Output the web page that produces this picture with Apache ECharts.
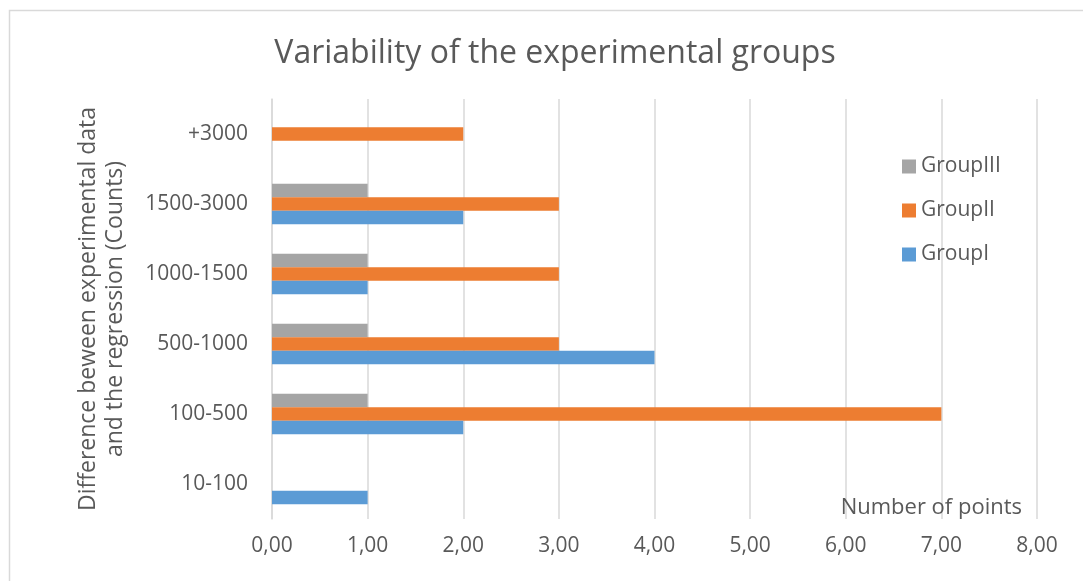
<!DOCTYPE html>
<html>
<head>
<meta charset="utf-8">
<script src="https://cdn.jsdelivr.net/npm/echarts@6/dist/echarts.min.js"></script>
<style>html,body{margin:0;padding:0;background:#fff;}#c{width:1083px;height:581px;}</style>
</head>
<body>
<div id="c"></div>
<script>
const categories = ['10-100', '100-500', '500-1000', '1000-1500', '1500-3000', '+3000'];
const groupI = [1, 2, 4, 1, 2, 0];
const groupII = [0, 7, 3, 3, 3, 2];
const groupIII = [0, 1, 1, 1, 1, 0];
const xTicks = { min: 0, max: 8, interval: 1 };

const FONT = 'Open Sans';
const TXT = '#595959';
const chart = echarts.init(document.getElementById('c'));
chart.setOption({
  animation: false,
  textStyle: { fontFamily: FONT, color: TXT },
  title: {
    text: 'Variability of the experimental groups',
    left: 550, top: 33, textAlign: 'center',
    textStyle: { fontFamily: FONT, fontSize: 32, fontWeight: 'normal', color: TXT }
  },
  graphic: [{
    type: 'rect', left: 7, top: 8, silent: true,
    shape: { width: 1200, height: 700 },
    style: { fill: 'none', stroke: '#d9d9d9', lineWidth: 1.5 }
  }],
  legend: {
    orient: 'vertical', left: 897, top: 151,
    data: ['GroupIII', 'GroupII', 'GroupI'],
    icon: 'rect', itemWidth: 14, itemHeight: 14, itemGap: 23,
    textStyle: { fontFamily: FONT, fontSize: 21, color: TXT }
  },
  grid: { left: 272, right: 46, top: 99, bottom: 62, containLabel: false },
  xAxis: {
    type: 'value', min: xTicks.min, max: xTicks.max, interval: xTicks.interval,
    name: 'Number of points', nameLocation: 'end', nameGap: -15,
    nameTextStyle: { fontFamily: FONT, fontSize: 22, color: TXT, align: 'right', verticalAlign: 'bottom', padding: [0, 0, 0, 0] },
    axisLine: { show: false }, axisTick: { show: false },
    axisLabel: { fontFamily: FONT, fontSize: 21, color: TXT, margin: 17, formatter: v => v.toFixed(2).replace('.', ',') },
    splitLine: { show: true, lineStyle: { color: '#d9d9d9', width: 1.5 } }
  },
  yAxis: {
    type: 'category', data: categories,
    name: 'Difference beween experimental data\nand the regression (Counts)',
    nameLocation: 'middle', nameGap: 143,
    nameTextStyle: { fontFamily: FONT, fontSize: 23, color: TXT, lineHeight: 27 },
    axisLine: { show: true, lineStyle: { color: '#d9d9d9', width: 1.5 } },
    axisTick: { show: false },
    axisLabel: { fontFamily: FONT, fontSize: 21, color: TXT, margin: 24 }
  },
  series: [
    { name: 'GroupIII', type: 'bar', data: groupIII, itemStyle: { color: '#a5a5a5' }, barGap: '0%', barCategoryGap: '42%' },
    { name: 'GroupII', type: 'bar', data: groupII, itemStyle: { color: '#ed7d31' }, barGap: '0%', barCategoryGap: '42%' },
    { name: 'GroupI', type: 'bar', data: groupI, itemStyle: { color: '#5b9bd5' }, barGap: '0%', barCategoryGap: '42%' }
  ]
});
</script>
</body>
</html>
